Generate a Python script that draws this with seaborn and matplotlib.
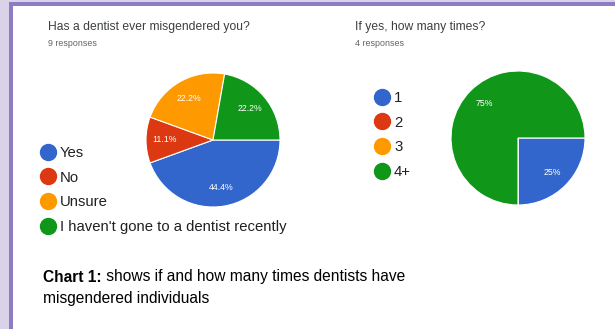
import matplotlib
matplotlib.use("Agg")
import matplotlib.pyplot as plt
from matplotlib.lines import Line2D
from matplotlib.patches import Rectangle
import seaborn as sns

# ---- data ----
q1_title = "Has a dentist ever misgendered you?"
q1_sub = "9 responses"
q1_labels = ["Yes", "No", "Unsure", "I haven't gone to a dentist recently"]
q1_counts = [4, 1, 2, 2]

q2_title = "If yes, how many times?"
q2_sub = "4 responses"
q2_labels = ["1", "2", "3", "4+"]
q2_counts = [1, 0, 0, 3]

caption_bold = "Chart 1:"
caption_rest = " shows if and how many times dentists have"
caption_line2 = "misgendered individuals"

palette = sns.color_palette(["#3366cc", "#dc3912", "#ff9900", "#109618"])

sns.set_theme(style="white")
plt.rcParams["font.family"] = ["Liberation Sans", "DejaVu Sans"]

W, H = 615, 329
fig = plt.figure(figsize=(W / 100, H / 100), dpi=100)
fig.patch.set_facecolor("white")


def fx(x):
    return x / W


def fy(y):
    return 1 - y / H


def rect(x0, y0, x1, y1, color):
    fig.patches.append(Rectangle((fx(x0), fy(y1)), fx(x1) - fx(x0), fy(y0) - fy(y1),
                                 transform=fig.transFigure, color=color, zorder=0, lw=0))


# frame
rect(0, 0, 9, H, "#d9d2e9")
rect(0, 0, W, 2, "#d9d2e9")
rect(9, 2, 13, H, "#8e7cc3")
rect(9, 2, W, 6, "#8e7cc3")


def pie_axes(cx, cy, r):
    ax = fig.add_axes([fx(cx - r), fy(cy + r), (2 * r) / W, (2 * r) / H])
    return ax


def draw_pie(ax, counts, fmt):
    def ap(p):
        if p <= 0:
            return ""
        return fmt.format(p)
    wedges, texts, autotexts = ax.pie(
        counts, colors=palette, startangle=0, counterclock=False,
        autopct=ap, pctdistance=0.72,
        wedgeprops=dict(edgecolor="white", linewidth=0.8),
        textprops=dict(color="white", fontsize=6.3),
    )
    ax.set_xlim(-1.0, 1.0)
    ax.set_ylim(-1.0, 1.0)
    ax.set_aspect("equal")
    ax.axis("off")


ax1 = pie_axes(213, 140, 67)
draw_pie(ax1, q1_counts, "{:.1f}%")
ax2 = pie_axes(518, 138, 67)
draw_pie(ax2, q2_counts, "{:.0f}%")

# titles
fig.text(fx(48), fy(27), q1_title, fontsize=8.7, color="#3c4043", va="center", ha="left")
fig.text(fx(48), fy(43), q1_sub, fontsize=6.4, color="#5f6368", va="center", ha="left")
fig.text(fx(355), fy(27), q2_title, fontsize=8.7, color="#3c4043", va="center", ha="left")
fig.text(fx(355), fy(43), q2_sub, fontsize=6.4, color="#5f6368", va="center", ha="left")


def legend(labels, x, y):
    handles = [Line2D([], [], marker="o", linestyle="", markersize=11.5, color=c) for c in palette]
    lg = fig.legend(handles, labels, loc="upper left", bbox_to_anchor=(fx(x), fy(y)),
                    frameon=False, fontsize=10.7, handlelength=1.0, handletextpad=0.28,
                    labelspacing=0.72, borderpad=0, borderaxespad=0)
    for t in lg.get_texts():
        t.set_color("#202124")
    return lg


legend(q1_labels, 41, 146)
legend(q2_labels, 375, 91)

# caption
tb = fig.text(fx(43), fy(277), caption_bold, fontsize=11.2, fontweight="bold",
              color="black", va="center", ha="left")
fig.canvas.draw()
bb = tb.get_window_extent()
fig.text(bb.x1 / W, fy(277), caption_rest, fontsize=11.2, color="black", va="center", ha="left")
fig.text(fx(43), fy(298), caption_line2, fontsize=11.2, color="black", va="center", ha="left")

fig.savefig("out.png", dpi=100)
